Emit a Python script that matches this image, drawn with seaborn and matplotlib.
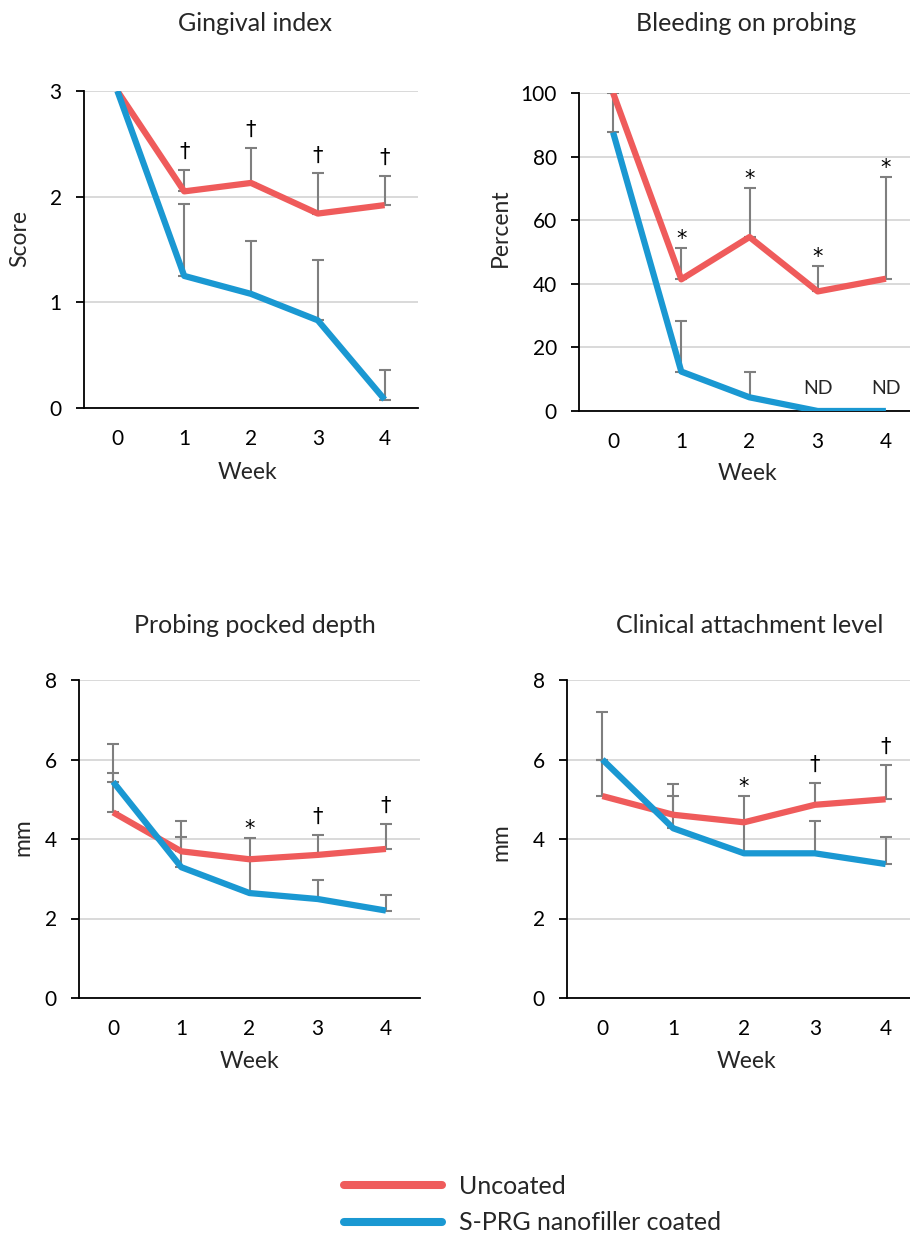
import matplotlib
matplotlib.use('Agg')
import matplotlib.pyplot as plt
import seaborn as sns
import pandas as pd
import numpy as np
from matplotlib.lines import Line2D

# data (mean, upper SD)
weeks = [0, 1, 2, 3, 4]
groups = ['Uncoated', 'S-PRG nanofiller coated']

gi_unc = [3.0, 2.05, 2.13, 1.84, 1.92]
gi_unc_sd = [0, 0.20, 0.33, 0.38, 0.28]
gi_spr = [3.0, 1.25, 1.08, 0.83, 0.08]
gi_spr_sd = [0, 0.68, 0.50, 0.57, 0.28]

bop_unc = [100, 41.4, 54.7, 37.6, 41.6]
bop_unc_sd = [0, 9.8, 15.4, 8.0, 32.0]
bop_spr = [87.6, 12.4, 4.3, 0, 0]
bop_spr_sd = [12.4, 15.9, 8.1, 0, 0]

ppd_unc = [4.67, 3.69, 3.49, 3.60, 3.75]
ppd_unc_sd = [0.98, 0.76, 0.53, 0.50, 0.62]
ppd_spr = [5.44, 3.29, 2.64, 2.49, 2.20]
ppd_spr_sd = [0.95, 0.77, 0.83, 0.48, 0.39]

cal_unc = [5.08, 4.61, 4.42, 4.86, 5.00]
cal_unc_sd = [0.92, 0.46, 0.66, 0.56, 0.86]
cal_spr = [6.00, 4.27, 3.64, 3.64, 3.37]
cal_spr_sd = [1.19, 1.11, 0.78, 0.81, 0.67]

gi_marks = ['', '\u2020', '\u2020', '\u2020', '\u2020']
bop_marks = ['', '*', '*', '*', '*']
ppd_marks = ['', '', '*', '\u2020', '\u2020']
cal_marks = ['', '', '*', '\u2020', '\u2020']
bop_nd = [3, 4]

titles = ['Gingival index', 'Bleeding on probing', 'Probing pocked depth', 'Clinical attachment level']
ylabels = ['Score', 'Percent', 'mm', 'mm']

RED = '#EF5B5B'
BLUE = '#1A98D2'
GRAY = '#7F7F7F'

sns.set_style('white')
plt.rcParams['font.family'] = ['Lato', 'DejaVu Sans']

W, H = 910, 1234
fig = plt.figure(figsize=(W/100, H/100), dpi=100)

def px_axes(left, top, width, bottom):
	return fig.add_axes([left/W, 1-bottom/H, width/W, (bottom-top)/H])

def panel(ax, unc, unc_sd, spr, spr_sd, ylim, yticks, ylabel, marks, lab_pos, week_pos):
	for vals, sd in [(unc, unc_sd), (spr, spr_sd)]:
		idx = [i for i in range(5) if sd[i] > 0]
		x = [weeks[i] for i in idx]
		y = [vals[i] for i in idx]
		e = [sd[i] for i in idx]
		ax.errorbar(x, y, yerr=[np.zeros(len(e)), e], fmt='none', ecolor=GRAY,
			elinewidth=1.5, capsize=4.3, capthick=1.5, zorder=2)
	df = pd.DataFrame({'Week': weeks*2, 'value': unc+spr,
		'group': [groups[0]]*5 + [groups[1]]*5})
	sns.lineplot(data=df, x='Week', y='value', hue='group', palette=[RED, BLUE],
		linewidth=4.5, legend=False, ax=ax, zorder=3,
		solid_joinstyle='round', solid_capstyle='butt')
	ax.set_xlim(-0.5, 4.5)
	ax.set_ylim(ylim)
	ax.set_yticks(yticks)
	ax.set_xticks(weeks)
	ax.grid(axis='y', color='#D9D9D9', linewidth=1.4)
	ax.set_axisbelow(True)
	for s in ['top', 'right']:
		ax.spines[s].set_visible(False)
	for s in ['left', 'bottom']:
		ax.spines[s].set_color('black')
		ax.spines[s].set_linewidth(1.3)
	ax.tick_params(axis='y', left=True, length=6, width=1.3, pad=10, labelsize=15, colors='black')
	ax.tick_params(axis='x', bottom=False, length=0, pad=15, labelsize=15, colors='black')
	ax.set_ylabel(ylabel, fontsize=16.5)
	ax.yaxis.set_label_coords(*lab_pos)
	ax.yaxis.label.set_va('center')
	ax.set_xlabel('Week', fontsize=16.5)
	ax.xaxis.set_label_coords(*week_pos)
	ax.xaxis.label.set_va('center')
	for i, m in enumerate(marks):
		if not m:
			continue
		top = max(unc[i]+unc_sd[i], spr[i]+spr_sd[i])
		off = 9 if m == '*' else 18
		ax.annotate(m, xy=(weeks[i], top), xytext=(0, off), textcoords='offset pixels',
			ha='center', va='center', fontsize=15, color='black', family='DejaVu Sans')

ax1 = px_axes(84, 91, 334, 408)
panel(ax1, gi_unc, gi_unc_sd, gi_spr, gi_spr_sd, (0, 3), [0, 1, 2, 3], ylabels[0], gi_marks,
	(-0.192, 0.536), (0.488, -0.205))
ax2 = px_axes(579, 93, 341, 411)
panel(ax2, bop_unc, bop_unc_sd, bop_spr, bop_spr_sd, (0, 100), [0, 20, 40, 60, 80, 100], ylabels[1], bop_marks,
	(-0.232, 0.575), (0.493, -0.195))
for w in bop_nd:
	ax2.text(w, 7.2, 'ND', ha='center', va='center', fontsize=14)
ax3 = px_axes(79, 680, 341, 998)
panel(ax3, ppd_unc, ppd_unc_sd, ppd_spr, ppd_spr_sd, (0, 8), [0, 2, 4, 6, 8], ylabels[2], ppd_marks,
	(-0.164, 0.506), (0.499, -0.201))
ax4 = px_axes(567, 680, 354, 998)
panel(ax4, cal_unc, cal_unc_sd, cal_spr, cal_spr_sd, (0, 8), [0, 2, 4, 6, 8], ylabels[3], cal_marks,
	(-0.186, 0.49), (0.508, -0.201))

for (cx, by), t in zip([(254.5, 31), (746, 31), (255, 633), (750, 633)], titles):
	fig.text(cx/W, 1-by/H, t, ha='center', va='baseline', fontsize=18)

handles = [Line2D([], [], color=RED, linewidth=5.8), Line2D([], [], color=BLUE, linewidth=5.8)]
fig.legend(handles, groups, loc='center left', bbox_to_anchor=(344/W, 1-1204.5/H),
	frameon=False, fontsize=18, handlelength=3.9, handletextpad=0.7,
	labelspacing=0.55, borderpad=0, borderaxespad=0)

plt.savefig('out.png', dpi=100)
plt.close()
